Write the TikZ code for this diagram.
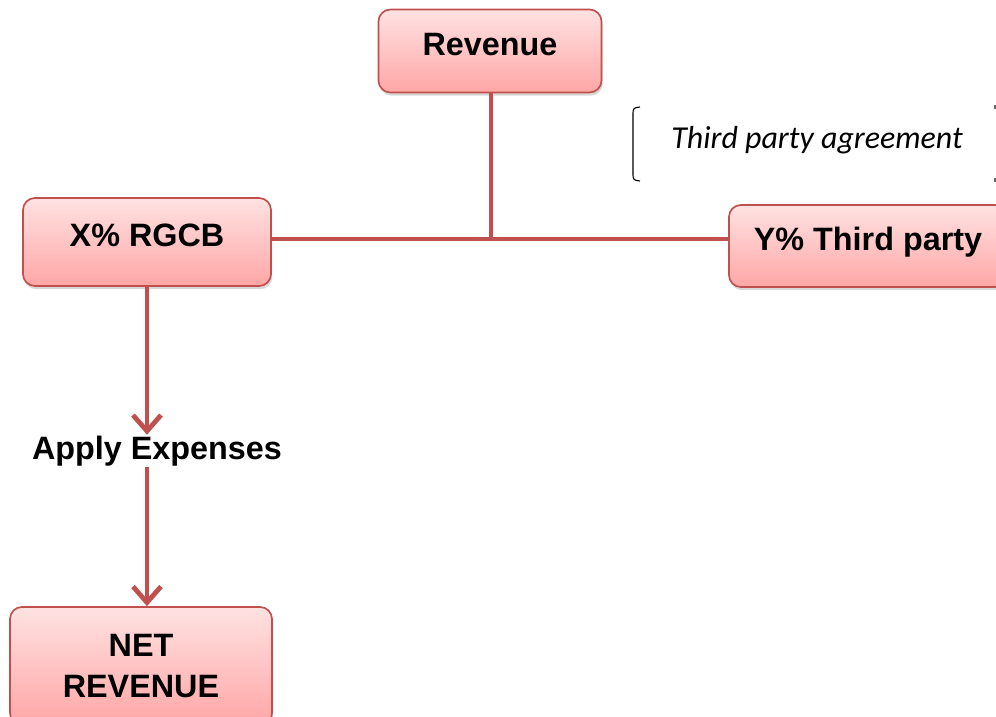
\documentclass[tikz,border=0pt]{standalone}
\usepackage{fontspec}
\setmainfont{Liberation Sans}
\newfontfamily\notefont{Carlito}
\usetikzlibrary{arrows.meta,calc,shadows,positioning}

\definecolor{linered}{RGB}{192,80,77}
\definecolor{boxtop}{RGB}{255,226,226}
\definecolor{boxbot}{RGB}{255,166,166}

\begin{document}
\begin{tikzpicture}[x=0.025cm, y=-0.025cm,
		share/.style={rectangle, draw=linered, line width=1.2pt, rounded corners=0.3cm,
				top color=boxtop, bottom color=boxbot, text=black, align=center,
				font=\fontsize{23}{29}\selectfont\bfseries,
				drop shadow={shadow xshift=0.03cm, shadow yshift=-0.08cm, fill=black!30}},
		oneline/.style={text height=0.58cm, text depth=0.38cm},
		link/.style={draw=linered, line width=3.4pt},
		flow/.style={link, -{Straight Barb[length=0.4cm, width=0.7cm, line width=3.4pt]}}]
	\useasboundingbox (0,0) rectangle (996,717);

	\node (revenue) [share, oneline, minimum width=5.575cm, minimum height=2.075cm] at (490,51) {Revenue};
	\node (rgcb) [share, oneline, minimum width=6.2cm, minimum height=2.2cm] at (147,242) {X\% RGCB};
	\node (third) [share, oneline, minimum width=6.95cm, minimum height=2.05cm] at (868,246) {Y\% Third party};
	\node (net) [share, minimum width=6.55cm, minimum height=2.95cm] at (141,666) {NET\\REVENUE};

	\node (apply) [inner sep=0pt, minimum height=0.8cm, font=\fontsize{23}{29}\selectfont\bfseries] at (157,451) {Apply Expenses};
	\node (agreement) [font=\notefont\itshape\fontsize{22.7}{27}\selectfont] at (817,140) {Third party agreement};

	\coordinate (split) at (491,239);

	% split of the revenue
	\draw [link] (revenue.south -| split) -- (split);
	\draw [link] (rgcb.east |- split) -- (third.west |- split);

	% own share down to net revenue
	\draw [flow] (rgcb.south) -- (rgcb.south |- apply.north);
	\draw [flow] (apply.south -| rgcb.south) -- (net.north -| rgcb.south);

	% bracket round the note
	\draw [line width=0.8pt] (640,107) .. controls (633,108) .. (633,116) -- (633,172) .. controls (633,180) .. (640,181);
	\draw [line width=0.8pt, black!60] (995,105) -- (995,109) (995,178) -- (995,182);
\end{tikzpicture}
\end{document}
